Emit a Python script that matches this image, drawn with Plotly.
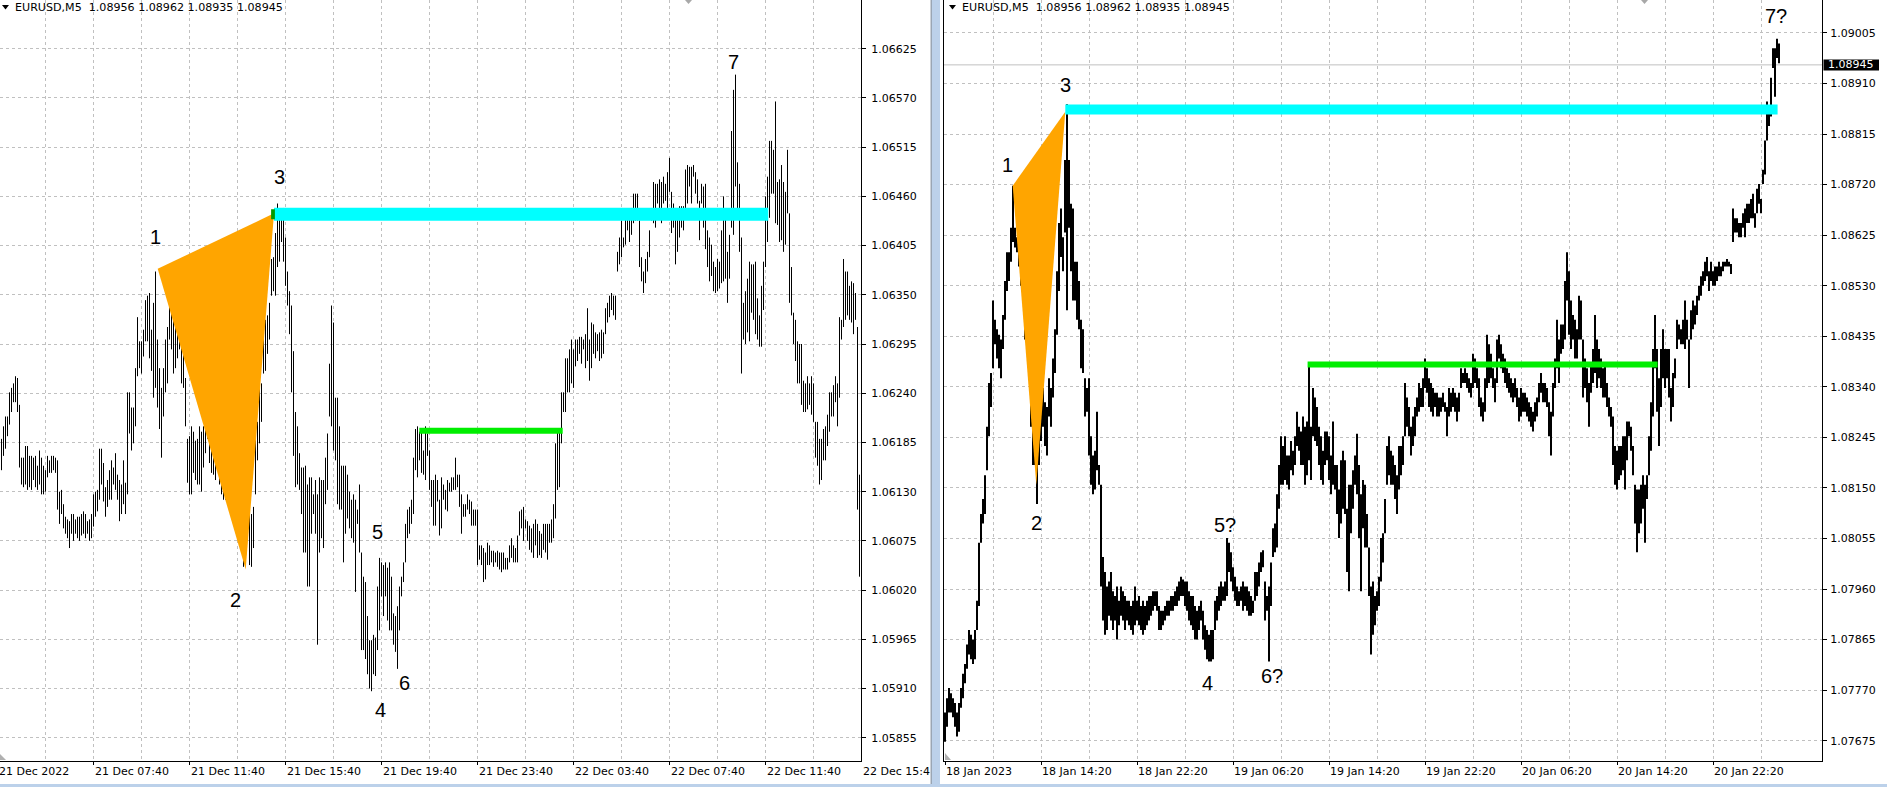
import plotly.graph_objects as go

W, H = 1887, 787

# ---------------- LEFT CHART: EURUSD M5, 21-22 Dec 2022 (bar index 0 = 21 Dec 03:50) ----------------
left_high = [
    1.06189, 1.06203, 1.06214, 1.06214, 1.06241, 1.06246, 1.06251, 1.06259, 1.06257, 1.06227,
    1.06168, 1.06168, 1.06181, 1.06181, 1.06170, 1.06170, 1.06168, 1.06170, 1.06159, 1.06176,
    1.06168, 1.06159, 1.06154, 1.06170, 1.06165, 1.06170, 1.06170, 1.06168, 1.06165,
    1.06130, 1.06132, 1.06116, 1.06102, 1.06099, 1.06097, 1.06105, 1.06105, 1.06099, 1.06102,
    1.06102, 1.06105, 1.06108, 1.06105, 1.06097, 1.06099, 1.06105, 1.06127, 1.06130, 1.06132,
    1.06178, 1.06178, 1.06162, 1.06135, 1.06143, 1.06154, 1.06165, 1.06157, 1.06173, 1.06149,
    1.06143, 1.06138, 1.06165, 1.06140, 1.06241, 1.06241, 1.06224, 1.06224, 1.06268, 1.06325,
    1.06298, 1.06298, 1.06311, 1.06344, 1.06349, 1.06352, 1.06311, 1.06341, 1.06376, 1.06300,
    1.06268, 1.06246, 1.06268, 1.06300, 1.06314, 1.06365, 1.06368, 1.06368, 1.06333, 1.06311,
    1.06330, 1.06322, 1.06300, 1.06257, 1.06189, 1.06192, 1.06203, 1.06197, 1.06187, 1.06189,
    1.06203, 1.06197, 1.06203, 1.06230, 1.06279, 1.06289, 1.06208, 1.06219, 1.06203, 1.06214,
    1.06200, 1.06200, 1.06187, 1.06176, 1.06214, 1.06205, 1.06189, 1.06170, 1.06159, 1.06176,
    1.06181, 1.06124, 1.06116, 1.06121, 1.06132, 1.06110, 1.06105, 1.06113, 1.06208, 1.06208,
    1.06251, 1.06251, 1.06319, 1.06322, 1.06327, 1.06341, 1.06390, 1.06392, 1.06419, 1.06452,
    1.06441, 1.06441, 1.06447, 1.06414, 1.06376, 1.06354, 1.06338, 1.06287, 1.06219, 1.06203,
    1.06173, 1.06157, 1.06157, 1.06159, 1.06138, 1.06146, 1.06146, 1.06127, 1.06143, 1.06127,
    1.06146, 1.06143, 1.06143, 1.06168, 1.06195, 1.06273, 1.06338, 1.06319, 1.06235, 1.06235,
    1.06203, 1.06159, 1.06159, 1.06159, 1.06149, 1.06130, 1.06121, 1.06127, 1.06121, 1.06110,
    1.06138, 1.06062, 1.06035, 1.06029, 1.05991, 1.05964, 1.05964, 1.05970, 1.05967, 1.06024,
    1.06056, 1.06051, 1.06048, 1.06051, 1.06045, 1.06051, 1.06035, 1.05994, 1.05991, 1.06002,
    1.06024, 1.06035, 1.06051, 1.06094, 1.06110, 1.06113, 1.06121, 1.06168, 1.06200, 1.06203,
    1.06197, 1.06200, 1.06176, 1.06203, 1.06195, 1.06176,
    1.06143, 1.06143, 1.06149, 1.06143, 1.06121, 1.06146, 1.06138, 1.06132, 1.06143, 1.06140,
    1.06146, 1.06146, 1.06168, 1.06149, 1.06149, 1.06127, 1.06116, 1.06116, 1.06127, 1.06121,
    1.06119, 1.06110, 1.06110, 1.06110, 1.06070, 1.06070, 1.06067, 1.06062, 1.06073, 1.06070,
    1.06064, 1.06064, 1.06062, 1.06064, 1.06062, 1.06062, 1.06062, 1.06056, 1.06056, 1.06070,
    1.06078, 1.06070, 1.06067, 1.06081, 1.06108, 1.06110, 1.06113, 1.06099, 1.06097, 1.06092,
    1.06089, 1.06094, 1.06099, 1.06094, 1.06086, 1.06083, 1.06094, 1.06094, 1.06094, 1.06094,
    1.06099, 1.06116, 1.06184, 1.06200, 1.06200, 1.06241, 1.06241, 1.06279, 1.06279, 1.06289,
    1.06300, 1.06289, 1.06300, 1.06300, 1.06303, 1.06303, 1.06300, 1.06306, 1.06335, 1.06300,
    1.06319, 1.06317, 1.06308, 1.06306, 1.06308, 1.06311, 1.06308, 1.06335, 1.06341, 1.06349,
    1.06352, 1.06349, 1.06349, 1.06398, 1.06414, 1.06433, 1.06414, 1.06444, 1.06444, 1.06441,
    1.06447, 1.06463, 1.06463, 1.06463, 1.06433, 1.06392, 1.06376, 1.06390, 1.06398, 1.06422,
    1.06447, 1.06476, 1.06474, 1.06474, 1.06479, 1.06476, 1.06482, 1.06474, 1.06487, 1.06503,
    1.06465, 1.06452, 1.06447, 1.06444, 1.06449, 1.06449, 1.06449, 1.06490, 1.06495, 1.06493,
    1.06493, 1.06495, 1.06487, 1.06479, 1.06455, 1.06474, 1.06471, 1.06474, 1.06422, 1.06414,
    1.06406, 1.06387, 1.06381, 1.06390, 1.06387, 1.06422, 1.06460, 1.06436, 1.06398, 1.06417,
    1.06533, 1.06579, 1.06596, 1.06498, 1.06474, 1.06414, 1.06341, 1.06354, 1.06368, 1.06387,
    1.06384, 1.06384, 1.06387, 1.06346, 1.06327, 1.06360, 1.06387, 1.06460, 1.06482, 1.06522,
    1.06522, 1.06512, 1.06566, 1.06476, 1.06479, 1.06495, 1.06476, 1.06465, 1.06512, 1.06441,
    1.06381, 1.06330, 1.06322, 1.06298, 1.06295, 1.06295, 1.06254, 1.06251, 1.06259, 1.06251,
    1.06259, 1.06251, 1.06208, 1.06208, 1.06189, 1.06189, 1.06200, 1.06203, 1.06216, 1.06241,
    1.06241, 1.06249, 1.06259, 1.06251, 1.06325, 1.06322, 1.06390, 1.06376, 1.06376, 1.06360,
    1.06365, 1.06363, 1.06352, 1.06314, 1.06149,
]
left_low = [
    1.06154, 1.06170, 1.06178, 1.06192, 1.06205, 1.06219, 1.06230, 1.06230, 1.06219, 1.06157,
    1.06138, 1.06135, 1.06138, 1.06132, 1.06135, 1.06132, 1.06143, 1.06135, 1.06132, 1.06138,
    1.06127, 1.06127, 1.06130, 1.06146, 1.06151, 1.06151, 1.06154, 1.06151, 1.06110,
    1.06094, 1.06105, 1.06089, 1.06083, 1.06078, 1.06067, 1.06083, 1.06075, 1.06083, 1.06078,
    1.06075, 1.06081, 1.06083, 1.06078, 1.06083, 1.06075, 1.06078, 1.06091, 1.06102, 1.06108,
    1.06121, 1.06138, 1.06119, 1.06102, 1.06113, 1.06121, 1.06121, 1.06138, 1.06132, 1.06121,
    1.06097, 1.06105, 1.06116, 1.06105, 1.06127, 1.06195, 1.06176, 1.06184, 1.06203, 1.06259,
    1.06268, 1.06262, 1.06281, 1.06298, 1.06298, 1.06279, 1.06265, 1.06235, 1.06246, 1.06224,
    1.06200, 1.06168, 1.06214, 1.06241, 1.06251, 1.06300, 1.06289, 1.06262, 1.06268, 1.06279,
    1.06289, 1.06251, 1.06246, 1.06203, 1.06140, 1.06127, 1.06127, 1.06151, 1.06143, 1.06138,
    1.06138, 1.06130, 1.06157, 1.06173, 1.06189, 1.06162, 1.06151, 1.06149, 1.06143, 1.06154,
    1.06138, 1.06127, 1.06121, 1.06121, 1.06132, 1.06127, 1.06121, 1.06127, 1.06127, 1.06130,
    1.06132, 1.06094, 1.06046, 1.06051, 1.06083, 1.06048, 1.06046, 1.06067, 1.06127, 1.06165,
    1.06184, 1.06208, 1.06262, 1.06265, 1.06284, 1.06300, 1.06349, 1.06354, 1.06349, 1.06381,
    1.06387, 1.06409, 1.06387, 1.06360, 1.06338, 1.06306, 1.06241, 1.06170, 1.06135, 1.06138,
    1.06132, 1.06105, 1.06062, 1.06062, 1.06024, 1.06024, 1.06083, 1.06105, 1.06083, 1.05959,
    1.06062, 1.06078, 1.06067, 1.06116, 1.06132, 1.06214, 1.06203, 1.06176, 1.06165, 1.06116,
    1.06110, 1.06110, 1.06051, 1.06083, 1.06100, 1.06089, 1.06078, 1.06073, 1.06018, 1.06094,
    1.06062, 1.05953, 1.05953, 1.05943, 1.05926, 1.05910, 1.05907, 1.05926, 1.05924, 1.05953,
    1.05975, 1.06013, 1.05991, 1.06013, 1.05986, 1.05975, 1.05975, 1.05959, 1.05951, 1.05932,
    1.05975, 1.06013, 1.06029, 1.06051, 1.06078, 1.06083, 1.06094, 1.06105, 1.06154, 1.06146,
    1.06165, 1.06151, 1.06149, 1.06143, 1.06170, 1.06132,
    1.06113, 1.06092, 1.06092, 1.06119, 1.06081, 1.06089, 1.06121, 1.06110, 1.06108, 1.06130,
    1.06130, 1.06132, 1.06132, 1.06135, 1.06113, 1.06083, 1.06102, 1.06102, 1.06110, 1.06105,
    1.06092, 1.06092, 1.06092, 1.06048, 1.06054, 1.06048, 1.06029, 1.06032, 1.06048, 1.06048,
    1.06051, 1.06046, 1.06051, 1.06046, 1.06043, 1.06040, 1.06043, 1.06043, 1.06043, 1.06051,
    1.06056, 1.06051, 1.06051, 1.06051, 1.06081, 1.06089, 1.06075, 1.06089, 1.06075, 1.06065,
    1.06062, 1.06056, 1.06070, 1.06056, 1.06059, 1.06056, 1.06065, 1.06062, 1.06054, 1.06073,
    1.06073, 1.06078, 1.06100, 1.06132, 1.06135, 1.06184, 1.06219, 1.06219, 1.06241, 1.06241,
    1.06251, 1.06246, 1.06270, 1.06276, 1.06284, 1.06273, 1.06289, 1.06268, 1.06276, 1.06254,
    1.06268, 1.06284, 1.06279, 1.06287, 1.06276, 1.06279, 1.06284, 1.06306, 1.06319, 1.06325,
    1.06333, 1.06327, 1.06322, 1.06376, 1.06384, 1.06392, 1.06403, 1.06406, 1.06422, 1.06409,
    1.06417, 1.06430, 1.06433, 1.06433, 1.06381, 1.06365, 1.06352, 1.06363, 1.06376, 1.06392,
    1.06433, 1.06430, 1.06425, 1.06452, 1.06436, 1.06430, 1.06452, 1.06455, 1.06441, 1.06465,
    1.06419, 1.06425, 1.06384, 1.06398, 1.06414, 1.06425, 1.06422, 1.06447, 1.06452, 1.06471,
    1.06452, 1.06482, 1.06463, 1.06452, 1.06411, 1.06452, 1.06425, 1.06401, 1.06381, 1.06365,
    1.06371, 1.06354, 1.06352, 1.06354, 1.06357, 1.06363, 1.06365, 1.06368, 1.06341, 1.06368,
    1.06425, 1.06417, 1.06471, 1.06438, 1.06398, 1.06262, 1.06300, 1.06295, 1.06308, 1.06298,
    1.06330, 1.06322, 1.06306, 1.06300, 1.06292, 1.06292, 1.06333, 1.06381, 1.06409, 1.06436,
    1.06463, 1.06463, 1.06430, 1.06428, 1.06409, 1.06411, 1.06398, 1.06406, 1.06441, 1.06341,
    1.06327, 1.06295, 1.06276, 1.06251, 1.06251, 1.06227, 1.06219, 1.06219, 1.06222, 1.06227,
    1.06216, 1.06208, 1.06168, 1.06159, 1.06138, 1.06143, 1.06165, 1.06165, 1.06181, 1.06197,
    1.06214, 1.06214, 1.06230, 1.06203, 1.06235, 1.06300, 1.06314, 1.06322, 1.06327, 1.06322,
    1.06319, 1.06306, 1.06322, 1.06110, 1.06035,
]
left_xtick_pos = [-2, 46, 94, 142, 190, 238, 286, 334, 382, 430]
left_xtick_text = ["21 Dec 2022", "21 Dec 07:40", "21 Dec 11:40", "21 Dec 15:40", "21 Dec 19:40",
                   "21 Dec 23:40", "22 Dec 03:40", "22 Dec 07:40", "22 Dec 11:40", "22 Dec 15:4"]
left_yticks = [1.05855, 1.05910, 1.05965, 1.06020, 1.06075, 1.06130, 1.06185, 1.06240,
               1.06295, 1.06350, 1.06405, 1.06460, 1.06515, 1.06570, 1.06625]
left_ytick_text = ["1.05855", "1.05910", "1.05965", "1.06020", "1.06075", "1.06130", "1.06185", "1.06240",
                   "1.06295", "1.06350", "1.06405", "1.06460", "1.06515", "1.06570", "1.06625"]
left_tri_x = [78.1, 136.25, 122.1]
left_tri_y = [1.06379, 1.06441, 1.06043]
left_res_x = [136.25, 383.4]
left_res_y = 1.06440
left_sup_x = [208.9, 280.6]
left_sup_y = 1.06198
left_mark_x = [134.8, 136.7]
left_wave_text = ["1", "2", "3", "4", "5", "6", "7"]
left_wave_x = [76.75, 117.0, 138.9, 189.5, 187.9, 201.5, 365.9]
left_wave_y = [1.06415, 1.06009, 1.06482, 1.05886, 1.06085, 1.05916, 1.06610]

# ---------------- RIGHT CHART: EURUSD M5, 18-23 Jan 2023 (one value pair per 10 minutes) ----------------
right_high = [
    1.07728, 1.07755, 1.07774, 1.07764, 1.07755, 1.07746, 1.07728, 1.07746, 1.07774, 1.07801,
    1.07819, 1.07856, 1.07883, 1.07874, 1.07865, 1.07883, 1.07938, 1.08047, 1.08101, 1.08129,
    1.08174, 1.08265, 1.08347, 1.08366, 1.08502, 1.08466, 1.08448, 1.08438, 1.08429, 1.08475,
    1.08539, 1.08593, 1.08593, 1.08639, 1.08718, 1.08639, 1.08621, 1.08612, 1.08593, 1.08575,
    1.08539, 1.08502, 1.08448, 1.08356, 1.08320, 1.08284, 1.08265, 1.08265, 1.08311, 1.08338,
    1.08311, 1.08302, 1.08356, 1.08338, 1.08393, 1.08448, 1.08557, 1.08648, 1.08675, 1.08621,
    1.08766, 1.08871, 1.08766, 1.08684, 1.08675, 1.08575, 1.08575, 1.08539, 1.08466, 1.08448,
    1.08356, 1.08338, 1.08356, 1.08247, 1.08211, 1.08220, 1.08293, 1.08193, 1.08156, 1.08020,
    1.07992, 1.07965, 1.07974, 1.07992, 1.07956, 1.07947, 1.07965, 1.07938, 1.07965, 1.07956,
    1.07947, 1.07938, 1.07938, 1.07928, 1.07938, 1.07965, 1.07938, 1.07947, 1.07928, 1.07938,
    1.07928, 1.07938, 1.07947, 1.07947, 1.07956, 1.07956, 1.07956, 1.07928, 1.07919, 1.07919,
    1.07928, 1.07938, 1.07938, 1.07947, 1.07947, 1.07956, 1.07965, 1.07974, 1.07983, 1.07978,
    1.07974, 1.07974, 1.07956, 1.07947, 1.07947, 1.07928, 1.07919, 1.07928, 1.07938, 1.07919,
    1.07892, 1.07883, 1.07874, 1.07883, 1.07883, 1.07938, 1.07947, 1.07965, 1.07974, 1.07965,
    1.07974, 1.08056, 1.08047, 1.08029, 1.08001, 1.07983, 1.07965, 1.07956, 1.07965,
    1.07974, 1.07965, 1.07965, 1.07956, 1.07947, 1.07938, 1.07992, 1.07992, 1.08010, 1.08029,
    1.08033, 1.07974, 1.07947, 1.07965, 1.08010, 1.08074, 1.08083, 1.08138, 1.08193, 1.08247,
    1.08229, 1.08247, 1.08211, 1.08211, 1.08238, 1.08220, 1.08247, 1.08293, 1.08265, 1.08256,
    1.08284, 1.08265, 1.08275, 1.08384, 1.08265, 1.08338, 1.08320, 1.08302, 1.08265, 1.08247,
    1.08220, 1.08256, 1.08256, 1.08247, 1.08211, 1.08275, 1.08193, 1.08193, 1.08147, 1.08202,
    1.08220, 1.08202, 1.08111, 1.08156, 1.08156, 1.08183, 1.08211, 1.08252, 1.08193, 1.08138,
    1.08165, 1.08156, 1.08101, 1.08038, 1.07965, 1.07974, 1.07947, 1.07956, 1.07983, 1.08056,
    1.08065, 1.08129, 1.08229, 1.08247, 1.08220, 1.08211, 1.08193, 1.08174, 1.08229, 1.08229,
    1.08247, 1.08347, 1.08320, 1.08302, 1.08265, 1.08284, 1.08302, 1.08320, 1.08347, 1.08338,
    1.08356, 1.08393, 1.08375, 1.08356, 1.08347, 1.08338, 1.08329, 1.08329, 1.08320, 1.08320,
    1.08329, 1.08311, 1.08302, 1.08338, 1.08329, 1.08338, 1.08329, 1.08320, 1.08329, 1.08375,
    1.08366, 1.08375, 1.08366, 1.08356, 1.08347, 1.08402, 1.08393, 1.08375, 1.08356, 1.08320,
    1.08311, 1.08356, 1.08438, 1.08420, 1.08402, 1.08375, 1.08356, 1.08429, 1.08438, 1.08420,
    1.08402, 1.08393, 1.08375, 1.08366, 1.08356, 1.08347, 1.08356, 1.08338, 1.08320, 1.08338,
    1.08329, 1.08329, 1.08320, 1.08311,
    1.08302, 1.08293, 1.08311, 1.08320, 1.08347, 1.08366, 1.08347, 1.08347, 1.08338, 1.08311,
    1.08293, 1.08347, 1.08393, 1.08466, 1.08429, 1.08457, 1.08457, 1.08539, 1.08593, 1.08557,
    1.08502, 1.08475, 1.08466, 1.08448, 1.08511, 1.08502, 1.08429, 1.08393, 1.08375, 1.08347,
    1.08384, 1.08411, 1.08475, 1.08429, 1.08411, 1.08393, 1.08375, 1.08384, 1.08347, 1.08320,
    1.08302, 1.08284, 1.08229, 1.08220, 1.08229, 1.08229, 1.08247, 1.08247, 1.08275, 1.08275,
    1.08265, 1.08229, 1.08156, 1.08147, 1.08147, 1.08156, 1.08174, 1.08156, 1.08174, 1.08247,
    1.08311, 1.08411, 1.08475, 1.08411, 1.08356, 1.08411, 1.08448, 1.08411, 1.08411, 1.08411,
    1.08338, 1.08366, 1.08393, 1.08466, 1.08457, 1.08448, 1.08466, 1.08502, 1.08466, 1.08429,
    1.08484, 1.08502, 1.08493, 1.08511, 1.08530, 1.08548, 1.08557, 1.08575, 1.08584, 1.08557,
    1.08575, 1.08557, 1.08566, 1.08566, 1.08575, 1.08566, 1.08575, 1.08575, 1.08580, 1.08575,
    1.08571, 1.08675, 1.08657, 1.08657, 1.08648, 1.08648, 1.08666, 1.08675, 1.08684, 1.08684,
    1.08693, 1.08703, 1.08666, 1.08712, 1.08721, 1.08693, 1.08748, 1.08803, 1.08876, 1.08857,
    1.08921, 1.08976, 1.08976, 1.08994, 1.08985,
]
right_low = [
    1.07673, 1.07701, 1.07728, 1.07728, 1.07719, 1.07701, 1.07683, 1.07692, 1.07737, 1.07755,
    1.07783, 1.07810, 1.07837, 1.07828, 1.07819, 1.07828, 1.07883, 1.07928, 1.08047, 1.08083,
    1.08101, 1.08183, 1.08247, 1.08302, 1.08375, 1.08420, 1.08393, 1.08375, 1.08356, 1.08411,
    1.08466, 1.08520, 1.08539, 1.08575, 1.08612, 1.08602, 1.08593, 1.08566, 1.08530, 1.08502,
    1.08429, 1.08429, 1.08375, 1.08265, 1.08193, 1.08193, 1.08120, 1.08193, 1.08238, 1.08265,
    1.08229, 1.08211, 1.08284, 1.08265, 1.08320, 1.08366, 1.08438, 1.08520, 1.08584, 1.08557,
    1.08630, 1.08484, 1.08639, 1.08557, 1.08502, 1.08502, 1.08466, 1.08448, 1.08375, 1.08366,
    1.08284, 1.08293, 1.08211, 1.08156, 1.08138, 1.08147, 1.08183, 1.08156, 1.07965, 1.07901,
    1.07874, 1.07883, 1.07910, 1.07901, 1.07883, 1.07901, 1.07865, 1.07892, 1.07910, 1.07901,
    1.07883, 1.07901, 1.07892, 1.07883, 1.07874, 1.07892, 1.07901, 1.07892, 1.07883, 1.07874,
    1.07883, 1.07892, 1.07901, 1.07910, 1.07919, 1.07928, 1.07919, 1.07883, 1.07883, 1.07892,
    1.07901, 1.07910, 1.07910, 1.07919, 1.07919, 1.07928, 1.07928, 1.07938, 1.07947, 1.07947,
    1.07928, 1.07919, 1.07901, 1.07892, 1.07883, 1.07865, 1.07865, 1.07883, 1.07901, 1.07865,
    1.07846, 1.07828, 1.07824, 1.07824, 1.07828, 1.07883, 1.07901, 1.07919, 1.07928, 1.07938,
    1.07938, 1.07947, 1.07992, 1.07974, 1.07956, 1.07938, 1.07928, 1.07928, 1.07938,
    1.07919, 1.07928, 1.07919, 1.07910, 1.07910, 1.07915, 1.07938, 1.07947, 1.07965, 1.07992,
    1.08001, 1.07901, 1.07919, 1.07824, 1.07928, 1.08020, 1.08029, 1.08038, 1.08111, 1.08156,
    1.08156, 1.08165, 1.08156, 1.08147, 1.08183, 1.08174, 1.08193, 1.08229, 1.08220, 1.08193,
    1.08193, 1.08156, 1.08174, 1.08202, 1.08165, 1.08247, 1.08238, 1.08229, 1.08193, 1.08165,
    1.08156, 1.08193, 1.08202, 1.08165, 1.08138, 1.08156, 1.08147, 1.08101, 1.08056, 1.08083,
    1.08111, 1.08101, 1.07992, 1.07956, 1.08065, 1.08111, 1.08156, 1.08138, 1.08056, 1.07956,
    1.08074, 1.08038, 1.08038, 1.07947, 1.07837, 1.07874, 1.07892, 1.07919, 1.07928, 1.07974,
    1.08010, 1.08065, 1.08156, 1.08174, 1.08156, 1.08156, 1.08129, 1.08101, 1.08147, 1.08174,
    1.08193, 1.08247, 1.08265, 1.08247, 1.08211, 1.08229, 1.08247, 1.08284, 1.08293, 1.08302,
    1.08302, 1.08338, 1.08329, 1.08302, 1.08293, 1.08284, 1.08302, 1.08284, 1.08284, 1.08293,
    1.08302, 1.08293, 1.08247, 1.08284, 1.08293, 1.08302, 1.08293, 1.08275, 1.08293, 1.08338,
    1.08347, 1.08347, 1.08338, 1.08329, 1.08320, 1.08338, 1.08347, 1.08338, 1.08302, 1.08284,
    1.08275, 1.08293, 1.08338, 1.08347, 1.08356, 1.08338, 1.08311, 1.08347, 1.08393, 1.08375,
    1.08366, 1.08347, 1.08338, 1.08329, 1.08320, 1.08311, 1.08320, 1.08302, 1.08275, 1.08284,
    1.08293, 1.08293, 1.08284, 1.08275,
    1.08265, 1.08256, 1.08275, 1.08284, 1.08311, 1.08329, 1.08311, 1.08311, 1.08302, 1.08247,
    1.08211, 1.08284, 1.08338, 1.08375, 1.08347, 1.08402, 1.08411, 1.08429, 1.08502, 1.08438,
    1.08411, 1.08429, 1.08393, 1.08393, 1.08429, 1.08429, 1.08320, 1.08338, 1.08311, 1.08265,
    1.08329, 1.08347, 1.08366, 1.08338, 1.08356, 1.08338, 1.08320, 1.08320, 1.08302, 1.08284,
    1.08265, 1.08193, 1.08156, 1.08147, 1.08165, 1.08174, 1.08183, 1.08147, 1.08202, 1.08247,
    1.08220, 1.08174, 1.08083, 1.08029, 1.08065, 1.08083, 1.08111, 1.08047, 1.08129, 1.08174,
    1.08220, 1.08284, 1.08375, 1.08293, 1.08229, 1.08302, 1.08356, 1.08338, 1.08356, 1.08320,
    1.08275, 1.08302, 1.08356, 1.08411, 1.08429, 1.08420, 1.08420, 1.08411, 1.08429, 1.08338,
    1.08429, 1.08448, 1.08457, 1.08475, 1.08502, 1.08511, 1.08530, 1.08539, 1.08548, 1.08520,
    1.08539, 1.08530, 1.08530, 1.08539, 1.08548, 1.08548, 1.08557, 1.08566, 1.08566, 1.08566,
    1.08552, 1.08612, 1.08630, 1.08630, 1.08621, 1.08621, 1.08639, 1.08621, 1.08648, 1.08648,
    1.08657, 1.08657, 1.08639, 1.08666, 1.08684, 1.08666, 1.08721, 1.08739, 1.08803, 1.08830,
    1.08848, 1.08939, 1.08885, 1.08958, 1.08948,
]
right_xtick_pos = [0, 48, 96, 144, 192, 240, 288, 336, 384]
right_xtick_text = ["18 Jan 2023", "18 Jan 14:20", "18 Jan 22:20", "19 Jan 06:20", "19 Jan 14:20",
                    "19 Jan 22:20", "20 Jan 06:20", "20 Jan 14:20", "20 Jan 22:20"]
right_yticks = [1.07675, 1.07770, 1.07865, 1.07960, 1.08055, 1.08150, 1.08245, 1.08340,
                1.08435, 1.08530, 1.08625, 1.08720, 1.08815, 1.08910, 1.09005]
right_ytick_text = ["1.07675", "1.07770", "1.07865", "1.07960", "1.08055", "1.08150", "1.08245", "1.08340",
                    "1.08435", "1.08530", "1.08625", "1.08720", "1.08815", "1.08910", "1.09005"]
right_tri_x = [33.85, 60.15, 45.65]
right_tri_y = [1.08718, 1.08857, 1.08156]
right_res_x = [60.15, 416.3]
right_res_y = 1.08861
right_sup_x = [181.3, 356.3]
right_sup_y = 1.08382
bid_price = 1.08945
bid_text = "1.08945"
right_wave_text = ["1", "2", "3", "4", "5?", "6?", "7?"]
right_wave_x = [31.5, 45.65, 60.35, 131.0, 139.75, 163.65, 415.25]
right_wave_y = [1.08756, 1.08084, 1.08908, 1.07783, 1.08081, 1.07797, 1.09036]

header_text = "EURUSD,M5\u00a0\u00a01.08956 1.08962 1.08935 1.08945"

# ---------------- layout geometry (pixels) ----------------
L_X0, L_X1 = 0, 861
R_X0, R_X1 = 944, 1822
PLOT_BOTTOM = 760.5
L_RANGE = [-0.75, -0.75 + (L_X1 - L_X0) / 2.0]
R_RANGE = [-0.5, -0.5 + (R_X1 - R_X0) / 2.0]
L_YRANGE = [1.058296, 1.066794]
R_YRANGE = [1.076378, 1.090669]

def px(x):
    return x / W

def py(y):
    return 1 - y / H

def lx_paper(v):
    return px(L_X0 + (v - L_RANGE[0]) / (L_RANGE[1] - L_RANGE[0]) * (L_X1 - L_X0))

def rx_paper(v):
    return px(R_X0 + (v - R_RANGE[0]) / (R_RANGE[1] - R_RANGE[0]) * (R_X1 - R_X0))

GRID = "#C0C0C0"
FONT = "DejaVu Sans"

fig = go.Figure()

def add_panel(xa, ya, high, low, tri_x, tri_y, res_x, res_y, res_w, sup_x, sup_y, sup_w, bar_w):
    fig.add_trace(go.Scatter(x=tri_x + [tri_x[0]], y=tri_y + [tri_y[0]], mode="lines", fill="toself",
                             fillcolor="#FFA500", line=dict(color="#FFA500", width=0),
                             xaxis=xa, yaxis=ya, hoverinfo="skip", showlegend=False))
    fig.add_trace(go.Scatter(x=res_x, y=[res_y, res_y], mode="lines",
                             line=dict(color="#00FFFF", width=res_w),
                             xaxis=xa, yaxis=ya, hoverinfo="skip", showlegend=False))
    fig.add_trace(go.Scatter(x=sup_x, y=[sup_y, sup_y], mode="lines",
                             line=dict(color="#00EE00", width=sup_w),
                             xaxis=xa, yaxis=ya, hoverinfo="skip", showlegend=False))
    xs = list(range(len(high)))
    fig.add_trace(go.Ohlc(x=xs, open=low, high=high, low=low, close=high, xaxis=xa, yaxis=ya,
                          tickwidth=0,
                          increasing=dict(line=dict(color="black", width=bar_w)),
                          decreasing=dict(line=dict(color="black", width=bar_w)),
                          hoverinfo="skip", showlegend=False))

add_panel("x", "y", left_high, left_low, left_tri_x, left_tri_y, left_res_x, left_res_y, 13,
          left_sup_x, left_sup_y, 6, 1)
fig.add_trace(go.Scatter(x=left_mark_x, y=[left_res_y, left_res_y], mode="lines",
                         line=dict(color="#009A00", width=10), xaxis="x", yaxis="y",
                         hoverinfo="skip", showlegend=False))
add_panel("x2", "y2", right_high, right_low, right_tri_x, right_tri_y, right_res_x, right_res_y, 10,
          right_sup_x, right_sup_y, 6, 2)

left_minor = list(range(22, 430, 48))
right_minor = list(range(24, 440, 48))

common_x = dict(showticklabels=False, ticks="outside", ticklen=3, tickcolor="black",
                showgrid=True, gridcolor=GRID, griddash="3px,3px", gridwidth=1,
                showline=True, linecolor="black", linewidth=1, zeroline=False,
                rangeslider=dict(visible=False), fixedrange=True)
common_y = dict(side="right", ticks="outside", ticklen=4, tickcolor="black",
                showgrid=True, gridcolor=GRID, griddash="3px,3px", gridwidth=1,
                showline=True, linecolor="black", linewidth=1, zeroline=False,
                tickfont=dict(family=FONT, size=11, color="black"), fixedrange=True)

fig.update_layout(
    width=W, height=H, margin=dict(l=0, r=0, t=0, b=0),
    paper_bgcolor="white", plot_bgcolor="white", showlegend=False,
    xaxis=dict(domain=[px(L_X0), px(L_X1)], range=L_RANGE, anchor="y",
               tickmode="array", tickvals=left_xtick_pos,
               minor=dict(tickmode="array", tickvals=left_minor, showgrid=True, gridcolor=GRID,
                          griddash="3px,3px", ticks=""),
               **common_x),
    yaxis=dict(domain=[1 - PLOT_BOTTOM / H, 1], range=L_YRANGE, anchor="x",
               tickmode="array", tickvals=left_yticks, ticktext=left_ytick_text,
               ticklabelstandoff=3, **common_y),
    xaxis2=dict(domain=[px(R_X0), px(R_X1)], range=R_RANGE, anchor="y2",
                tickmode="array", tickvals=right_xtick_pos,
                minor=dict(tickmode="array", tickvals=right_minor, showgrid=True, gridcolor=GRID,
                           griddash="3px,3px", ticks=""),
                **common_x),
    yaxis2=dict(domain=[1 - PLOT_BOTTOM / H, 1], range=R_YRANGE, anchor="x2", mirror=True,
                tickmode="array", tickvals=right_yticks, ticktext=right_ytick_text,
                ticklabelstandoff=1, **common_y),
)

ann = []
for v, t in zip(left_xtick_pos, left_xtick_text):
    ann.append(dict(x=lx_paper(v), y=py(771.5), xref="paper", yref="paper", text=t, showarrow=False,
                    xanchor="left", yanchor="middle", xshift=-1,
                    font=dict(family=FONT, size=11, color="black")))
for v, t in zip(right_xtick_pos, right_xtick_text):
    ann.append(dict(x=rx_paper(v), y=py(771.5), xref="paper", yref="paper", text=t, showarrow=False,
                    xanchor="left", yanchor="middle", xshift=-1,
                    font=dict(family=FONT, size=11, color="black")))
for t, x, y in zip(left_wave_text, left_wave_x, left_wave_y):
    ann.append(dict(x=x, y=y, xref="x", yref="y", text=t, showarrow=False, xanchor="center",
                    yanchor="middle", font=dict(family="Liberation Sans", size=20, color="black")))
for t, x, y in zip(right_wave_text, right_wave_x, right_wave_y):
    ann.append(dict(x=x, y=y, xref="x2", yref="y2", text=t, showarrow=False, xanchor="center",
                    yanchor="middle", font=dict(family="Liberation Sans", size=20, color="black")))
for x0 in (13, 960):
    ann.append(dict(x=px(x0), y=py(7.5), xref="paper", yref="paper", text=header_text, showarrow=False,
                    xanchor="left", yanchor="middle", font=dict(family=FONT, size=11.1, color="black")))
ann.append(dict(x=px(1851), y=bid_price, xref="paper", yref="y2", text=bid_text, showarrow=False,
                xanchor="center", yanchor="middle", font=dict(family=FONT, size=11, color="white")))
fig.update_layout(annotations=ann)

shapes = []
shapes.append(dict(type="line", xref="x2 domain", yref="y2", x0=0, x1=1, y0=bid_price, y1=bid_price,
                   line=dict(color="#C0C0C0", width=1), layer="below"))
shapes.append(dict(type="rect", xref="paper", yref="paper", x0=px(1823.5), x1=px(1879),
                   y0=py(70.5), y1=py(59.5), fillcolor="black", line=dict(width=0), layer="above"))
SEP = "#BCD1EA"
shapes.append(dict(type="rect", xref="paper", yref="paper", x0=px(930.5), x1=px(932), y0=0, y1=1,
                   fillcolor="#9AA6B4", line=dict(width=0), layer="above"))
shapes.append(dict(type="rect", xref="paper", yref="paper", x0=px(932), x1=px(940), y0=0, y1=1,
                   fillcolor=SEP, line=dict(width=0), layer="above"))
shapes.append(dict(type="rect", xref="paper", yref="paper", x0=0, x1=1, y0=0, y1=py(784),
                   fillcolor=SEP, line=dict(width=0), layer="above"))

def tri(pts, color):
    p = "M " + " L ".join(f"{px(a):.6f},{py(b):.6f}" for a, b in pts) + " Z"
    return dict(type="path", xref="paper", yref="paper", path=p, fillcolor=color,
                line=dict(width=0), layer="above")

shapes.append(tri([(2, 5), (9, 5), (5.5, 9.5)], "black"))
shapes.append(tri([(949, 5), (956, 5), (952.5, 9.5)], "black"))
shapes.append(tri([(685, 0), (692, 0), (688.5, 4)], "#A8A8A8"))
shapes.append(tri([(1641, 0), (1648, 0), (1644.5, 4)], "#A8A8A8"))
shapes.append(tri([(0, 754), (0, 760), (6, 760)], "#B0B0B0"))
shapes.append(tri([(945, 753), (945, 760), (951, 760)], "#B0B0B0"))
fig.update_layout(shapes=shapes)

fig.write_html("out.html", config={"displayModeBar": False},
               post_script="document.body.style.margin='0';document.body.style.overflow='hidden';")
